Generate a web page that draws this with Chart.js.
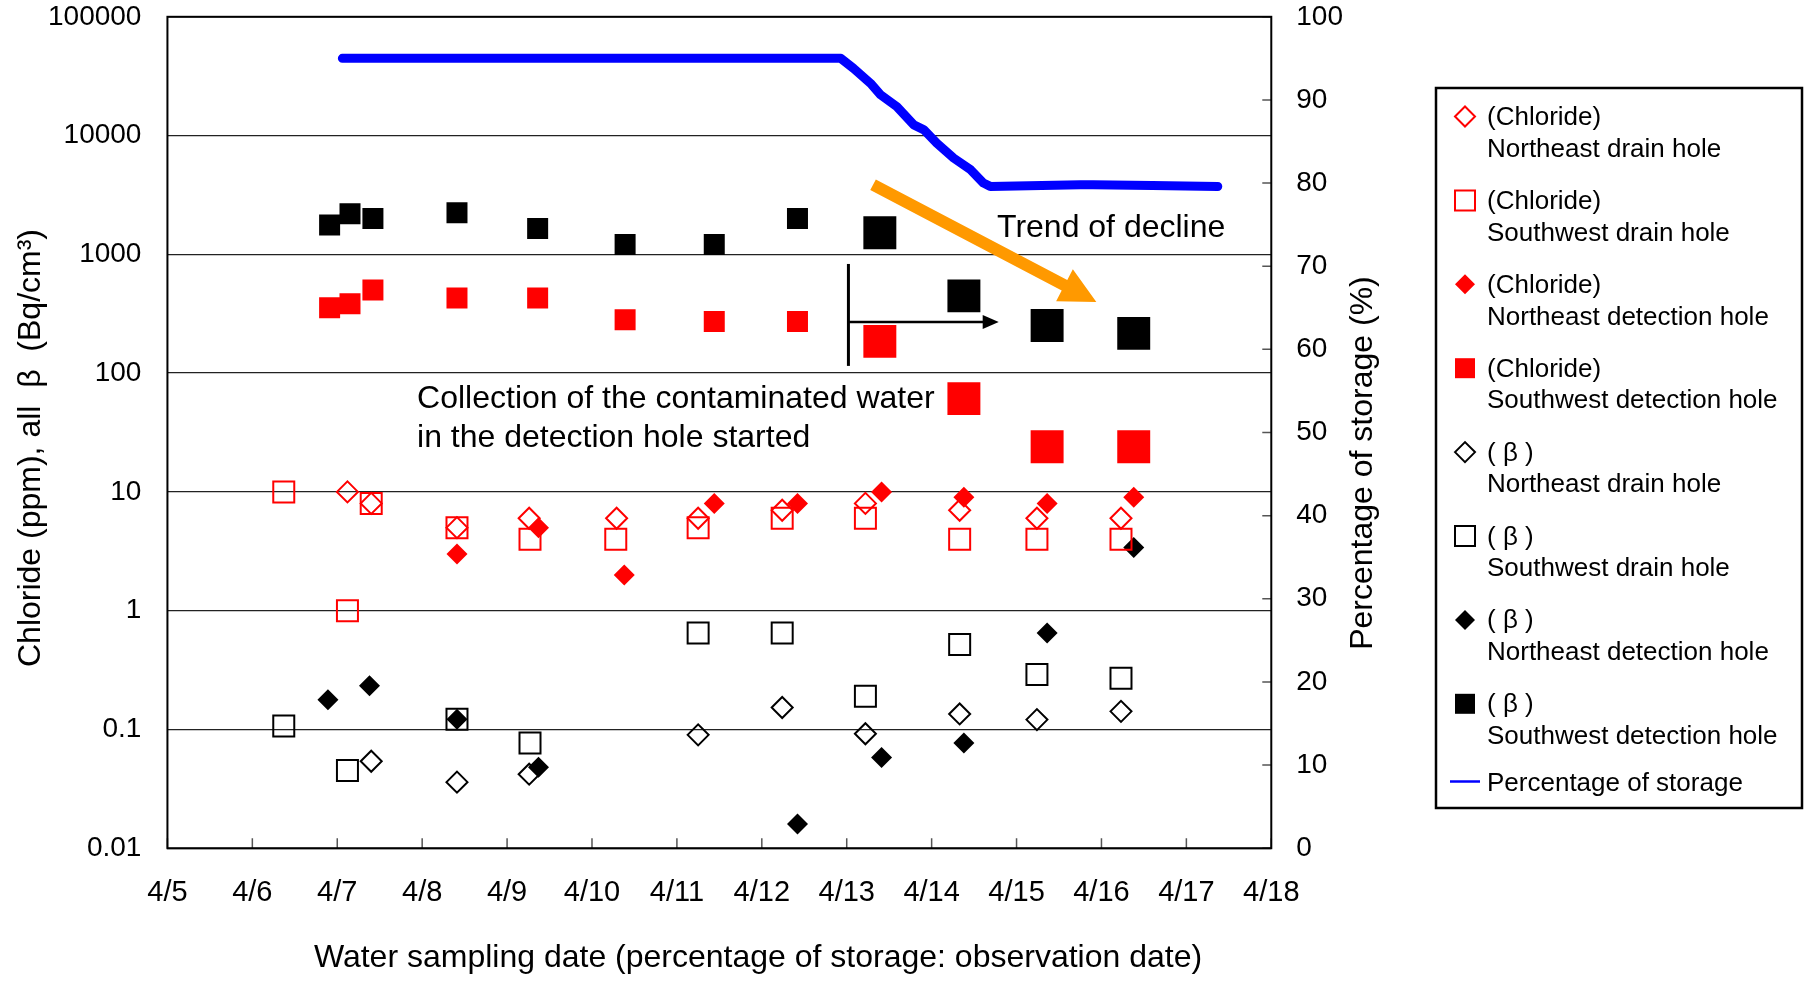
<!DOCTYPE html>
<html>
<head>
<meta charset="utf-8">
<script src="https://cdn.jsdelivr.net/npm/chart.js@4.4.0/dist/chart.umd.min.js"></script>
<style>
  html, body { margin: 0; padding: 0; background: #fff; }
</style>
</head>
<body>
<canvas id="chart" width="1804" height="982"></canvas>
<script>
// axis ticks
const dayTicks = [5, 6, 7, 8, 9, 10, 11, 12, 13, 14, 15, 16, 17, 18];
const dayLabels = ['4/5', '4/6', '4/7', '4/8', '4/9', '4/10', '4/11', '4/12', '4/13', '4/14', '4/15', '4/16', '4/17', '4/18'];
const logTicks = [0.01, 0.1, 1, 10, 100, 1000, 10000, 100000];
const logLabels = ['0.01', '0.1', '1', '10', '100', '1000', '10000', '100000'];
const pctTicks = [0, 10, 20, 30, 40, 50, 60, 70, 80, 90, 100];

// Chloride (ppm) - sampling day in April
const clNeDrainDays = [7.12, 7.40, 8.41, 9.26, 10.29, 11.25, 12.24, 13.22, 14.33, 15.24, 16.23];
const clNeDrainVals = [10, 8, 5, 6, 6, 6, 7, 8, 7, 6, 6];
const clSwDrainDays = [6.37, 7.12, 7.40, 8.41, 9.27, 10.28, 11.25, 12.24, 13.22, 14.33, 15.24, 16.23];
const clSwDrainVals = [10, 1, 8, 5, 4, 4, 5, 6, 6, 4, 4, 4];
const clNeDetDays = [8.41, 9.37, 10.38, 11.44, 12.42, 13.41, 14.38, 15.36, 16.38];
const clNeDetVals = [3, 5, 2, 8, 8, 10, 9, 8, 9];
const clSwDetDays = [6.91, 7.15, 7.42, 8.41, 9.36, 10.39, 11.44, 12.42, 13.39, 14.38, 15.36, 16.38];
const clSwDetVals = [355, 384, 500, 430, 430, 282, 272, 272, 185, 61, 24, 24];

// all beta (Bq/cm3)
const beNeDrainDays = [7.40, 8.41, 9.26, 11.25, 12.24, 13.22, 14.33, 15.24, 16.23];
const beNeDrainVals = [0.054, 0.036, 0.042, 0.09, 0.153, 0.092, 0.135, 0.121, 0.142];
const beSwDrainDays = [6.37, 7.12, 8.41, 9.27, 11.25, 12.24, 13.22, 14.33, 15.24, 16.23];
const beSwDrainVals = [0.107, 0.045, 0.122, 0.077, 0.65, 0.65, 0.19, 0.52, 0.29, 0.27];
const beNeDetDays = [6.89, 7.38, 8.41, 9.37, 12.42, 13.41, 14.38, 15.36, 16.38];
const beNeDetVals = [0.178, 0.233, 0.122, 0.048, 0.016, 0.058, 0.077, 0.65, 3.4];
const beSwDetDays = [6.91, 7.15, 7.42, 8.41, 9.36, 10.39, 11.44, 12.42, 13.39, 14.38, 15.36, 16.38];
const beSwDetVals = [1770, 2200, 2000, 2240, 1650, 1210, 1210, 2000, 1520, 447, 252, 216];

// percentage of storage (%)
const storageDays = [7.06, 12.93, 13.08, 13.28, 13.40, 13.59, 13.79, 13.91, 14.06, 14.26, 14.46, 14.61, 14.69, 15.75, 15.9, 16.6, 17.37];
const storagePct = [95, 95, 93.8, 92.0, 90.6, 89.2, 87.0, 86.4, 84.8, 83.0, 81.6, 80.0, 79.6, 79.8, 79.8, 79.7, 79.6];

// annotations (data units)
const trendText = { x: 14.77, y: 1400, text: 'Trend of decline' };
const trendArrow = { x0: 13.31, y0: 3850, x1: 15.94, y1: 397 };
const startLine = { x: 13.02, yTop: 830, yBottom: 115, yArrow: 270, xTip: 14.79 };
const startText = { x: 7.94, y1: 50.8, y2: 23.9, lines: ['Collection of the contaminated water', 'in the detection hole started'] };

const xTitle = 'Water sampling date (percentage of storage: observation date)';
const yTitle = 'Chloride (ppm), all  \u03b2  (Bq/cm\u00b3)';
const y1Title = 'Percentage of storage (%)';

const RED = '#ff0000';
const BLACK = '#000000';
const FONT = '"Liberation Sans", Arial, Helvetica, sans-serif';

const pts = (days, vals) => days.map((d, i) => ({ x: d, y: vals[i] }));

function marker(label, days, vals, style, color, filled, big) {
  return {
    label: label,
    data: pts(days, vals),
    yAxisID: 'y',
    pointStyle: style,
    borderColor: color,
    backgroundColor: filled ? color : 'rgba(0,0,0,0)',
    pointBorderWidth: filled ? 0 : 2,
    pointRadius: ctx => {
      if (style === 'rectRot') return 10.5;
      const raw = ctx.raw;
      return (big && raw && raw.x >= 13) ? 23.3 : 14.85;
    }
  };
}

const datasets = [
  marker('(Chloride)\nNortheast drain hole', clNeDrainDays, clNeDrainVals, 'rectRot', RED, false),
  marker('(Chloride)\nSouthwest drain hole', clSwDrainDays, clSwDrainVals, 'rect', RED, false),
  marker('(Chloride)\nNortheast detection hole', clNeDetDays, clNeDetVals, 'rectRot', RED, true),
  marker('(Chloride)\nSouthwest detection hole', clSwDetDays, clSwDetVals, 'rect', RED, true, true),
  marker('( \u03b2 )\nNortheast drain hole', beNeDrainDays, beNeDrainVals, 'rectRot', BLACK, false),
  marker('( \u03b2 )\nSouthwest drain hole', beSwDrainDays, beSwDrainVals, 'rect', BLACK, false),
  marker('( \u03b2 )\nNortheast detection hole', beNeDetDays, beNeDetVals, 'rectRot', BLACK, true),
  marker('( \u03b2 )\nSouthwest detection hole', beSwDetDays, beSwDetVals, 'rect', BLACK, true, true),
  {
    label: 'Percentage of storage',
    data: pts(storageDays, storagePct),
    yAxisID: 'y1',
    showLine: true,
    borderColor: '#0000ff',
    backgroundColor: '#0000ff',
    borderWidth: 9,
    borderCapStyle: 'round',
    borderJoinStyle: 'round',
    pointRadius: 0,
    pointStyle: 'line'
  }
];

function drawMarker(ctx, ds, cx, cy) {
  ctx.save();
  const filled = ds.backgroundColor !== 'rgba(0,0,0,0)';
  ctx.fillStyle = ds.backgroundColor;
  ctx.strokeStyle = ds.borderColor;
  ctx.lineWidth = 2;
  ctx.beginPath();
  if (ds.pointStyle === 'line') {
    ctx.moveTo(cx - 15, cy);
    ctx.lineTo(cx + 15, cy);
    ctx.lineWidth = 2.5;
    ctx.stroke();
  } else {
    if (ds.pointStyle === 'rectRot') {
      ctx.moveTo(cx - 10, cy);
      ctx.lineTo(cx, cy - 10);
      ctx.lineTo(cx + 10, cy);
      ctx.lineTo(cx, cy + 10);
      ctx.closePath();
    } else {
      ctx.rect(cx - 10, cy - 10, 20, 20);
    }
    if (filled) ctx.fill(); else ctx.stroke();
  }
  ctx.restore();
}

// frame, inward ticks, legend, titles and notes
const extras = {
  id: 'extras',
  beforeDatasetsDraw(chart) {
    const { ctx, chartArea: a, scales } = chart;
    ctx.save();
    ctx.strokeStyle = '#555';
    ctx.lineWidth = 1.5;
    ctx.beginPath();
    scales.x.ticks.forEach(t => {
      const px = scales.x.getPixelForValue(t.value);
      ctx.moveTo(px, a.bottom);
      ctx.lineTo(px, a.bottom - 10);
    });
    scales.y1.ticks.forEach(t => {
      const py = scales.y1.getPixelForValue(t.value);
      ctx.moveTo(a.right, py);
      ctx.lineTo(a.right - 9, py);
    });
    ctx.stroke();
    ctx.strokeStyle = '#000';
    ctx.lineWidth = 2;
    ctx.strokeRect(a.left, a.top, a.right - a.left, a.bottom - a.top);
    ctx.restore();
  },
  afterDatasetsDraw(chart) {
    const { ctx, scales } = chart;
    const X = v => scales.x.getPixelForValue(v);
    const Y = v => scales.y.getPixelForValue(v);
    ctx.save();

    // orange trend arrow
    const sx = X(trendArrow.x0), sy = Y(trendArrow.y0);
    const ex = X(trendArrow.x1), ey = Y(trendArrow.y1);
    const len = Math.hypot(ex - sx, ey - sy);
    const ux = (ex - sx) / len, uy = (ey - sy) / len;
    const nx = -uy, ny = ux;
    const headL = 36, headW = 18, shaftW = 6;
    const bx = ex - ux * headL, by = ey - uy * headL;
    ctx.fillStyle = '#ff9900';
    ctx.beginPath();
    ctx.moveTo(sx + nx * shaftW, sy + ny * shaftW);
    ctx.lineTo(bx + nx * shaftW, by + ny * shaftW);
    ctx.lineTo(bx + nx * headW, by + ny * headW);
    ctx.lineTo(ex, ey);
    ctx.lineTo(bx - nx * headW, by - ny * headW);
    ctx.lineTo(bx - nx * shaftW, by - ny * shaftW);
    ctx.lineTo(sx - nx * shaftW, sy - ny * shaftW);
    ctx.closePath();
    ctx.fill();

    // start of collection marker
    const lx = X(startLine.x);
    const ay = Y(startLine.yArrow);
    const tx = X(startLine.xTip);
    ctx.strokeStyle = '#000';
    ctx.lineWidth = 3;
    ctx.beginPath();
    ctx.moveTo(lx, Y(startLine.yTop));
    ctx.lineTo(lx, Y(startLine.yBottom));
    ctx.stroke();
    ctx.lineWidth = 2.5;
    ctx.beginPath();
    ctx.moveTo(lx, ay);
    ctx.lineTo(tx - 14, ay);
    ctx.stroke();
    ctx.fillStyle = '#000';
    ctx.beginPath();
    ctx.moveTo(tx, ay);
    ctx.lineTo(tx - 16, ay - 7);
    ctx.lineTo(tx - 16, ay + 7);
    ctx.closePath();
    ctx.fill();

    // notes
    ctx.fillStyle = '#000';
    ctx.font = '32px ' + FONT;
    ctx.textAlign = 'left';
    ctx.textBaseline = 'alphabetic';
    ctx.fillText(trendText.text, X(trendText.x), Y(trendText.y));
    ctx.fillText(startText.lines[0], X(startText.x), Y(startText.y1));
    ctx.fillText(startText.lines[1], X(startText.x), Y(startText.y2));
    ctx.restore();
  },
  afterDraw(chart) {
    const { ctx } = chart;
    ctx.save();
    ctx.fillStyle = '#000';
    ctx.font = '32px ' + FONT;
    ctx.textBaseline = 'alphabetic';
    ctx.textAlign = 'center';
    ctx.fillText(xTitle, 758, 967);

    ctx.save();
    ctx.translate(40, 448);
    ctx.rotate(-Math.PI / 2);
    ctx.fillText(yTitle, 0, 0);
    ctx.restore();

    ctx.save();
    ctx.translate(1372, 463);
    ctx.rotate(-Math.PI / 2);
    ctx.fillText(y1Title, 0, 0);
    ctx.restore();

    // legend
    const box = { x: 1436, y: 88, w: 366, h: 720 };
    ctx.strokeStyle = '#000';
    ctx.lineWidth = 2.5;
    ctx.strokeRect(box.x, box.y, box.w, box.h);
    ctx.font = '26px ' + FONT;
    ctx.textAlign = 'left';
    chart.data.datasets.forEach((ds, i) => {
      const lines = ds.label.split('\n');
      const base = lines.length > 1 ? 125 + i * 83.9 : 791;
      const my = lines.length > 1 ? base - 8.5 : base - 9.5;
      drawMarker(ctx, ds, 1465, my);
      ctx.fillStyle = '#000';
      lines.forEach((ln, k) => ctx.fillText(ln, 1487, base + k * 31.7));
    });
    ctx.restore();
  }
};

// label gaps come from invisible tick marks (ticks.padding would also pad the chart area)
const hiddenTicks = len => ({ drawOnChartArea: false, drawTicks: true, tickLength: len, tickColor: 'rgba(0,0,0,0)' });

new Chart(document.getElementById('chart'), {
  type: 'scatter',
  data: { datasets: datasets },
  options: {
    responsive: false,
    animation: false,
    events: [],
    layout: { autoPadding: false, padding: { left: 48, right: 461, top: 0, bottom: 72 } },
    plugins: {
      legend: { display: false },
      tooltip: { enabled: false }
    },
    scales: {
      x: {
        type: 'linear',
        min: 5,
        max: 18,
        afterBuildTicks: s => { s.ticks = dayTicks.map(v => ({ value: v })); },
        ticks: {
          autoSkip: false,
          maxRotation: 0,
          padding: 0,
          color: '#000',
          font: { family: FONT, size: 29 },
          callback: (v, i) => dayLabels[i]
        },
        grid: hiddenTicks(27),
        border: { display: false }
      },
      y: {
        type: 'logarithmic',
        position: 'left',
        min: 0.01,
        max: 100000,
        afterBuildTicks: s => { s.ticks = logTicks.map(v => ({ value: v })); },
        ticks: {
          autoSkip: false,
          padding: 0,
          color: '#000',
          font: { family: FONT, size: 28 },
          callback: (v, i) => logLabels[i]
        },
        grid: { color: '#222', lineWidth: 1.3, drawTicks: true, tickLength: 26, tickColor: 'rgba(0,0,0,0)' },
        border: { display: false }
      },
      y1: {
        type: 'linear',
        position: 'right',
        min: 0,
        max: 100,
        afterBuildTicks: s => { s.ticks = pctTicks.map(v => ({ value: v })); },
        ticks: {
          autoSkip: false,
          padding: 0,
          color: '#000',
          font: { family: FONT, size: 28 },
          callback: v => String(v)
        },
        grid: hiddenTicks(25),
        border: { display: false }
      }
    }
  },
  plugins: [extras]
});
</script>
</body>
</html>
